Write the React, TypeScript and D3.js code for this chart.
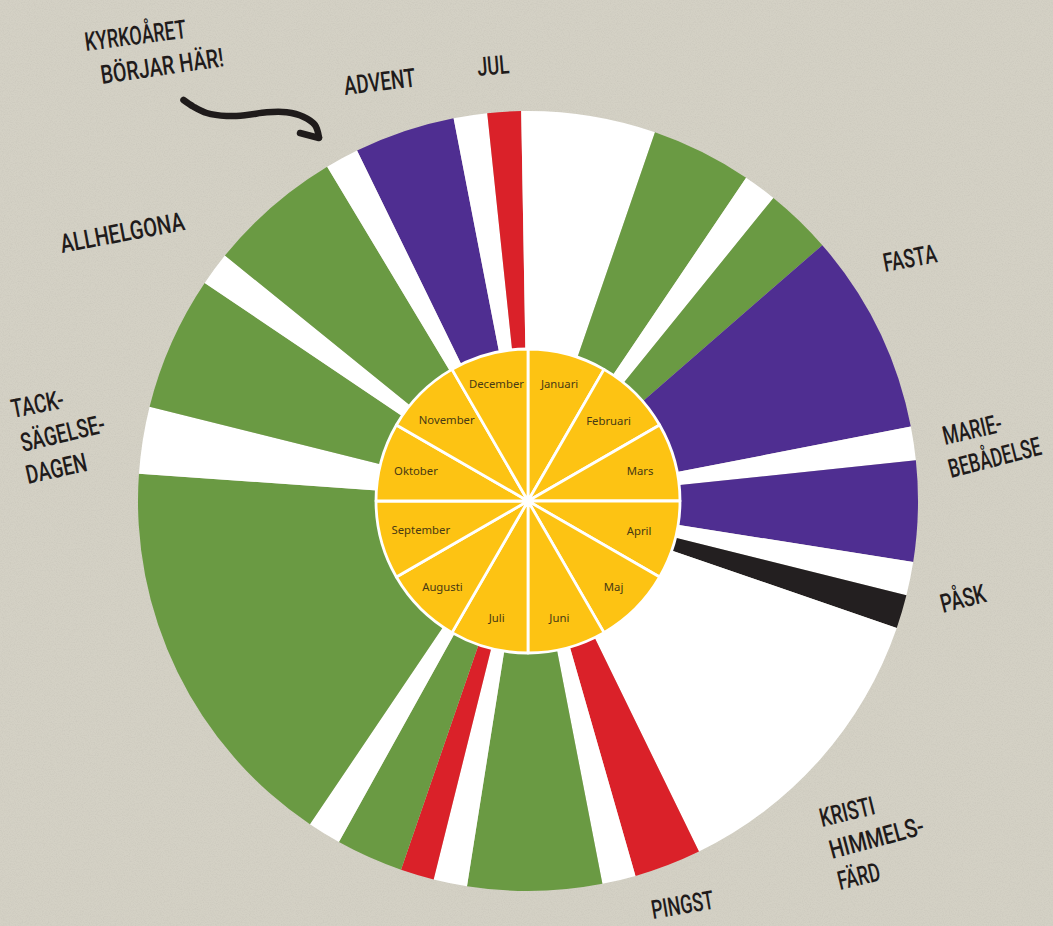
import React from "react";
import * as d3 from "d3";

// ---------- DATA ----------
const MONTHS = [
  "Januari", "Februari", "Mars", "April", "Maj", "Juni",
  "Juli", "Augusti", "September", "Oktober", "November", "December",
];
const MONTH_WEIGHTS = [1, 1, 1, 1, 1, 1, 1, 1, 1, 1, 1, 1];

// Liturgical colour periods, clockwise starting at first Sunday of Advent (degrees of the circle)
const SEASON_COLORS = [
  "purple", "white", "red", "white", "green", "white", "green", "purple",
  "white", "purple", "white", "black", "white", "red", "white", "green",
  "white", "red", "green", "white", "green", "white", "green", "white",
  "green", "white",
];
const SEASON_SPANS = [
  15, 5, 5, 20, 15, 5, 10, 30,
  5, 15, 5, 5, 45, 10, 5, 20,
  5, 5, 10, 5, 60, 10, 20, 5,
  20, 5,
];
const YEAR_START_DEG = -26; // where Advent begins (clockwise from 12 o'clock)

const LABEL_LINES = [
  "KYRKOÅRET", "BÖRJAR HÄR!", "ADVENT", "JUL", "FASTA", "MARIE-", "BEBÅDELSE",
  "PÅSK", "KRISTI", "HIMMELS-", "FÄRD", "PINGST", "ALLHELGONA", "TACK-",
  "SÄGELSE-", "DAGEN",
];

// ---------- LAYOUT / STYLE ----------
const W = 1053;
const H = 926;
const CX = 528;
const CY = 501;
const R_OUT = 390;
const R_PIE = 152;
// distance of each month name from the centre
const MONTH_LABEL_RADIUS = [122, 114, 116, 115, 121, 121, 121, 121, 111, 116, 115, 122];

const COLORS: Record<string, string> = {
  purple: "#4f2e91",
  white: "#ffffff",
  red: "#da2129",
  green: "#6a9a43",
  black: "#231f20",
};
const YELLOW = "#fdc313";
const BG = "#d4d1c5";
const INK = "#1f1b1b";
const LABEL_FONT_SIZE = 26;
const LABEL_FONT = `500 ${LABEL_FONT_SIZE}px Roboto, 'DejaVu Sans', sans-serif`;

// baseline start x, y, rotation (deg), text length
const LABEL_LAYOUT: [number, number, number, number][] = [
  [86, 51, -7.5, 102],
  [102, 84, -8.3, 124],
  [345, 95, -7, 72],
  [478, 76, -5, 32],
  [885, 272, -10.7, 54],
  [945, 445, -13, 60],
  [951, 478, -14.4, 95],
  [943, 613, -14.5, 46],
  [822, 827, -13.7, 56],
  [832, 859, -15, 97],
  [840, 890, -13.5, 43],
  [653, 919, -9.7, 63],
  [62, 253, -10.6, 126],
  [13, 418, -11, 53],
  [23, 452, -13.5, 86],
  [28, 484, -12.5, 62],
];

const ARROW_PATH: [number, number][] = [
  [183.5, 100], [193.5, 106.7], [206.7, 113], [226.7, 116], [246.7, 115],
  [266.7, 112.3], [286.7, 112.3], [303.3, 116.7], [315, 125], [319, 137.5],
];
const ARROW_BARB: [number, number][] = [[300, 133], [319, 138]];

function measure(text: string): number {
  if (typeof document === "undefined") return text.length * LABEL_FONT_SIZE * 0.6;
  const c = document.createElement("canvas").getContext("2d");
  if (!c) return text.length * LABEL_FONT_SIZE * 0.6;
  c.font = LABEL_FONT;
  return c.measureText(text).width || text.length * LABEL_FONT_SIZE * 0.6;
}

export default function App() {
  const deg = d3.scaleLinear().domain([0, 360]).range([0, 2 * Math.PI]);

  const seasonPie = d3
    .pie<number>()
    .value((d) => d)
    .sort(null)
    .startAngle(deg(YEAR_START_DEG))
    .endAngle(deg(YEAR_START_DEG + 360));
  const seasonArcs = seasonPie(SEASON_SPANS);
  const seasonArc = d3.arc<d3.PieArcDatum<number>>().innerRadius(R_PIE - 4).outerRadius(R_OUT);

  const monthPie = d3.pie<number>().value((d) => d).sort(null);
  const monthArcs = monthPie(MONTH_WEIGHTS);
  const monthArc = d3.arc<d3.PieArcDatum<number>>().innerRadius(0).outerRadius(R_PIE);

  const line = d3.line().curve(d3.curveCatmullRom.alpha(0.5));

  return (
    <svg
      width={W}
      height={H}
      viewBox={`0 0 ${W} ${H}`}
      style={{ position: "absolute", left: 0, top: 0, display: "block" }}
    >
      <defs>
        <filter id="grain" x="0" y="0" width="100%" height="100%">
          <feTurbulence type="fractalNoise" baseFrequency="0.85" numOctaves="2" seed="7" result="n" />
          <feColorMatrix
            in="n"
            type="matrix"
            values="0 0 0 0 0.35  0 0 0 0 0.33  0 0 0 0 0.3  0.5 0 0 0 -0.2"
          />
        </filter>
      </defs>
      <rect x={0} y={0} width={W} height={H} fill={BG} />
      <rect x={0} y={0} width={W} height={H} filter="url(#grain)" opacity={0.6} />

      <g transform={`translate(${CX},${CY})`}>
        {seasonArcs.map((a, i) => (
          <path key={i} d={seasonArc(a) || ""} fill={COLORS[SEASON_COLORS[i]]} />
        ))}
        {monthArcs.map((a, i) => (
          <path
            key={i}
            d={monthArc(a) || ""}
            fill={YELLOW}
            stroke="#ffffff"
            strokeWidth={2.8}
            strokeLinejoin="round"
          />
        ))}
        {monthArcs.map((a, i) => {
          const r = MONTH_LABEL_RADIUS[i];
          const [x, y] = d3
            .arc<d3.PieArcDatum<number>>()
            .innerRadius(r)
            .outerRadius(r)
            .centroid(a);
          return (
            <text
              key={i}
              x={x}
              y={y}
              textAnchor="middle"
              dominantBaseline="central"
              fontFamily="'Noto Sans', 'Open Sans', sans-serif"
              fontSize={11.3}
              fill="#483a14"
            >
              {MONTHS[i]}
            </text>
          );
        })}
      </g>

      <path
        d={line(ARROW_PATH) || ""}
        fill="none"
        stroke={INK}
        strokeWidth={6.5}
        strokeLinecap="round"
        strokeLinejoin="round"
      />
      <path
        d={line(ARROW_BARB) || ""}
        fill="none"
        stroke={INK}
        strokeWidth={6.5}
        strokeLinecap="round"
      />

      {LABEL_LINES.map((t, i) => {
        const [x, y, r, len] = LABEL_LAYOUT[i];
        const sx = len / measure(t);
        return (
          <text
            key={i}
            x={0}
            y={0}
            transform={`translate(${x},${y}) rotate(${r}) scale(${sx},1)`}
            fontFamily="Roboto, 'DejaVu Sans', sans-serif"
            fontWeight={500}
            fontSize={LABEL_FONT_SIZE}
            fill={INK}
          >
            {t}
          </text>
        );
      })}
    </svg>
  );
}
